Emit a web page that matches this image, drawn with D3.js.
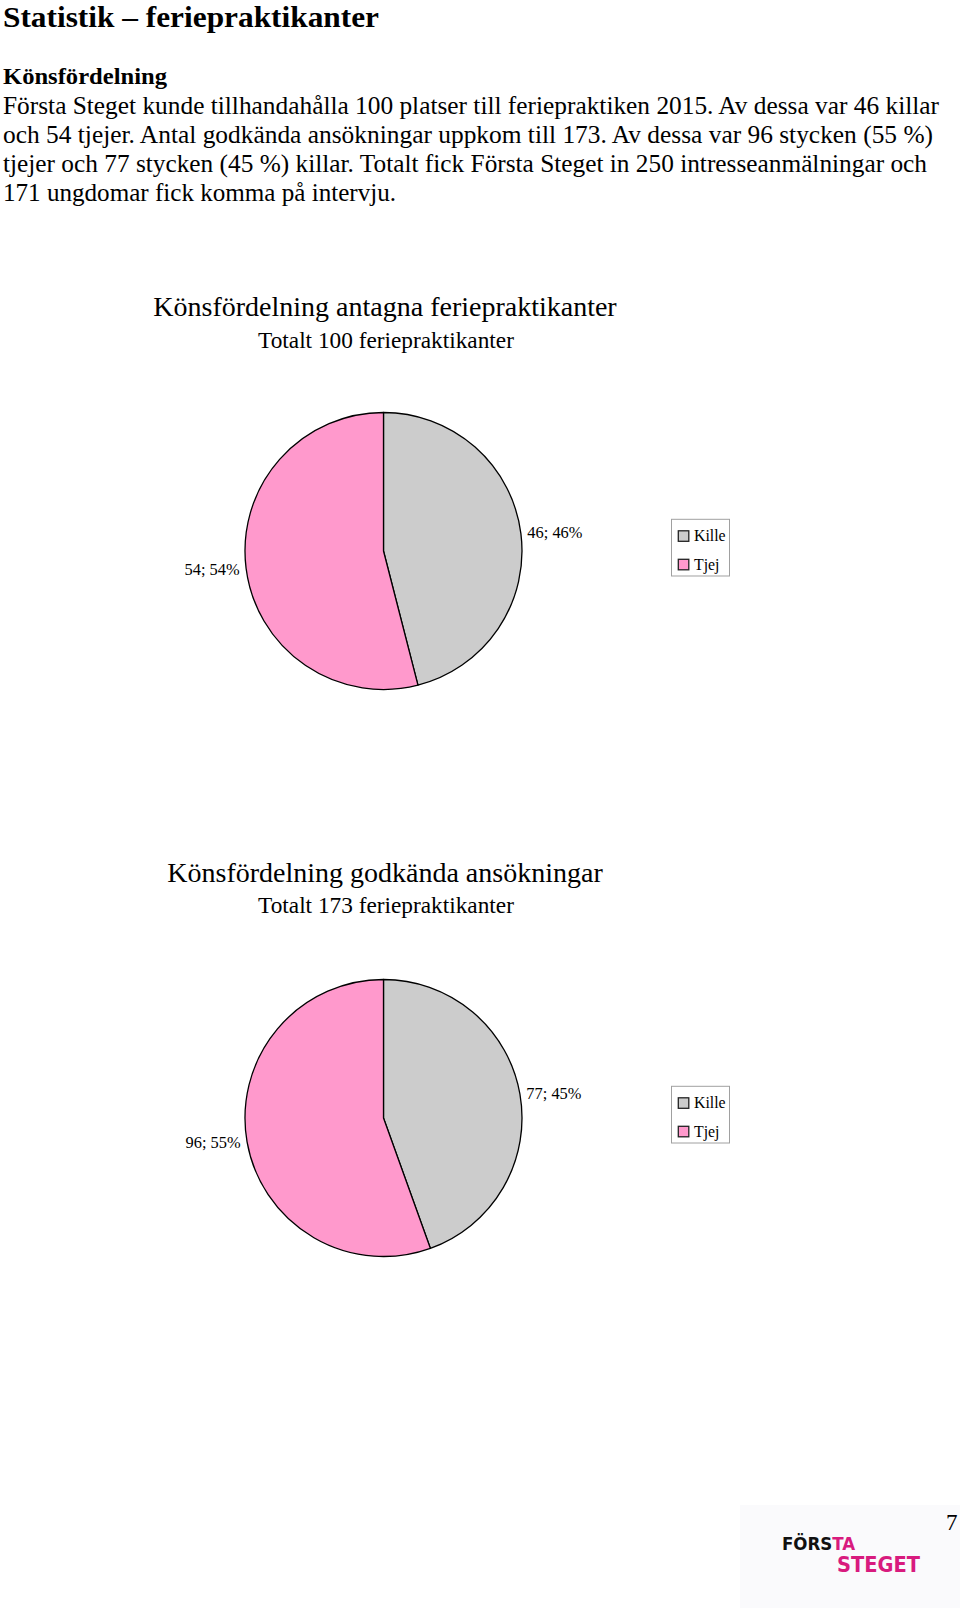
<!DOCTYPE html>
<html>
<head>
<meta charset="utf-8">
<script src="https://cdn.jsdelivr.net/npm/d3@7/dist/d3.min.js"></script>
<style>
html,body{margin:0;padding:0;background:#fff;}
svg{display:block;}
</style>
</head>
<body>
<script>
// ---- Data ----
const categories = ["Kille", "Tjej"];
const colors = ["#cccccc", "#ff99cc"];
const antagnaValues = [46, 54];
const godkandaValues = [77, 96];
const chartTitles = ["Könsfördelning antagna feriepraktikanter", "Könsfördelning godkända ansökningar"];
const chartSubtitles = ["Totalt 100 feriepraktikanter", "Totalt 173 feriepraktikanter"];
const pageHeading = "Statistik – feriepraktikanter";
const sectionHeading = "Könsfördelning";
const bodyLines = [
  "Första Steget kunde tillhandahålla 100 platser till feriepraktiken 2015. Av dessa var 46 killar",
  "och 54 tjejer. Antal godkända ansökningar uppkom till 173. Av dessa var 96 stycken (55 %)",
  "tjejer och 77 stycken (45 %) killar. Totalt fick Första Steget in 250 intresseanmälningar och",
  "171 ungdomar fick komma på intervju."
];
const pageNumber = "7";

const W = 960, H = 1608;
const serif = "'Liberation Serif', 'Times New Roman', serif";

const svg = d3.select("body").append("svg").attr("width", W).attr("height", H);
svg.append("rect").attr("width", W).attr("height", H).attr("fill", "#fff");

// ---- Page text ----
svg.append("text").attr("x", 3).attr("y", 26.5)
  .attr("font-family", serif).attr("font-weight", "bold").attr("font-size", 29.5)
  .attr("textLength", 376).attr("lengthAdjust", "spacingAndGlyphs")
  .text(pageHeading);
svg.append("text").attr("x", 3).attr("y", 84)
  .attr("font-family", serif).attr("font-weight", "bold").attr("font-size", 24)
  .attr("textLength", 164).attr("lengthAdjust", "spacingAndGlyphs")
  .text(sectionHeading);
const bodyBase = [114, 142.5, 171.5, 200.5];
const bodyWidths = [936, 930, 924, 393];
bodyLines.forEach((l, i) => {
  svg.append("text").attr("x", 3).attr("y", bodyBase[i])
    .attr("font-family", serif).attr("font-size", 24.5)
    .attr("textLength", bodyWidths[i]).attr("lengthAdjust", "spacingAndGlyphs")
    .text(l);
});

// ---- Pie charts ----
const pie = d3.pie().sort(null).value(d => d);
const R = 138.5;
const arc = d3.arc().innerRadius(0).outerRadius(R);

function drawPie(values, title, subtitle, cx, cy, titleY) {
  const g = svg.append("g");
  g.append("text").attr("x", 385).attr("y", titleY)
    .attr("text-anchor", "middle").attr("font-family", serif).attr("font-size", 28)
    .text(title);
  g.append("text").attr("x", 386).attr("y", titleY + 31.5)
    .attr("text-anchor", "middle").attr("font-family", serif).attr("font-size", 23.3)
    .text(subtitle);

  const total = d3.sum(values);
  const arcs = pie(values);
  const pg = g.append("g").attr("transform", `translate(${cx},${cy})`);
  pg.selectAll("path").data(arcs).join("path")
    .attr("d", arc)
    .attr("fill", (d, i) => colors[i])
    .attr("stroke", "#000").attr("stroke-width", 1.3)
    .attr("stroke-linejoin", "round");

  const labelR = 145;
  pg.selectAll("text.lbl").data(arcs).join("text")
    .attr("class", "lbl")
    .each(function(d) {
      const a = (d.startAngle + d.endAngle) / 2;
      const x = Math.sin(a) * labelR, y = -Math.cos(a) * labelR;
      d3.select(this).attr("x", x).attr("y", y + 5.5)
        .attr("text-anchor", x >= 0 ? "start" : "end");
    })
    .attr("font-family", serif).attr("font-size", 16.4)
    .text(d => `${d.data}; ${Math.round(d.data / total * 100)}%`);

  // Legend
  const lg = g.append("g").attr("transform", `translate(${cx + 288},${cy - 31.7})`);
  lg.append("rect").attr("x", 0).attr("y", 0).attr("width", 58).attr("height", 56.7)
    .attr("fill", "#fff").attr("stroke", "#a0a0a0").attr("stroke-width", 1);
  categories.forEach((c, i) => {
    const yy = 11.5 + i * 28.5;
    lg.append("rect").attr("x", 6.8).attr("y", yy).attr("width", 10.5).attr("height", 10.5)
      .attr("fill", colors[i]).attr("stroke", "#222").attr("stroke-width", 1.3);
    lg.append("text").attr("x", 22.5).attr("y", yy + 10.5)
      .attr("font-family", serif).attr("font-size", 15.8)
      .text(c);
  });
}

drawPie(antagnaValues, chartTitles[0], chartSubtitles[0], 383.5, 551, 316);
drawPie(godkandaValues, chartTitles[1], chartSubtitles[1], 383.5, 1118, 881.7);

// ---- Footer: logo & page number ----
svg.append("rect").attr("x", 740).attr("y", 1505).attr("width", 220).attr("height", 103)
  .attr("fill", "#fafafc");
svg.append("text").attr("x", 946).attr("y", 1529.5)
  .attr("font-family", serif).attr("font-size", 23)
  .text(pageNumber);
const logoFont = "'DejaVu Sans Condensed', 'DejaVu Sans', sans-serif";
const logo = svg.append("text")
  .attr("font-family", logoFont).attr("font-weight", "bold");
logo.append("tspan").attr("x", 782).attr("y", 1549.5).attr("font-size", 18.5)
  .attr("fill", "#111").text("FÖRS");
logo.append("tspan").attr("font-size", 18.5).attr("fill", "#d81b7e").text("TA");
logo.append("tspan").attr("x", 837).attr("y", 1572).attr("font-size", 20.5)
  .attr("textLength", 83).attr("lengthAdjust", "spacingAndGlyphs")
  .attr("fill", "#d81b7e").text("STEGET");
</script>
</body>
</html>
